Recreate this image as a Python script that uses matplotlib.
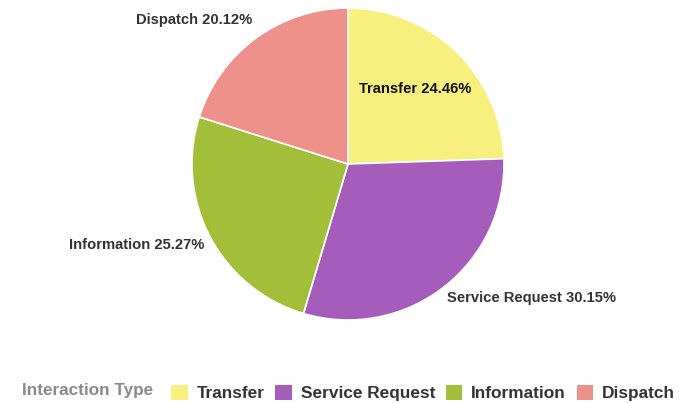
import matplotlib
matplotlib.use("Agg")
import matplotlib.pyplot as plt
from matplotlib.patches import Patch

categories = ["Transfer", "Service Request", "Information", "Dispatch"]
values = [24.46, 30.15, 25.27, 20.12]
colors = ["#F7F07E", "#A55CBB", "#A3BF3A", "#EE918A"]
legend_title = "Interaction Type"

plt.rcParams['font.family'] = ['Liberation Sans', 'DejaVu Sans']

W, H = 693, 403
fig = plt.figure(figsize=(W / 100, H / 100), dpi=100)
ax = fig.add_axes([0, 0, 1, 1])

cx, cy, r = 348, H - 164, 156
ax.pie(values, colors=colors, startangle=90, counterclock=False,
       center=(cx, cy), radius=r, frame=True,
       wedgeprops=dict(edgecolor='white', linewidth=1.2))
ax.set_xlim(0, W)
ax.set_ylim(0, H)
ax.set_aspect('equal')
ax.axis('off')

# label placement (pixel coords, y from top) and alignment
label_pos = [(415, 89, 'center'), (447, 298, 'left'), (204, 245, 'right'), (252, 20, 'right')]
for cat, v, (x, y, ha) in zip(categories, values, label_pos):
    ax.text(x, H - y, f"{cat} {v:.2f}%", ha=ha, va='center', fontsize=10.6,
            fontweight='bold', color='#111111' if cat == 'Transfer' else '#333333')

fig.text(22 / W, 1 - 391 / H, legend_title, ha='left', va='center', fontsize=12.3,
         fontweight='bold', color='#8a8a8a')
handles = [Patch(facecolor=c, edgecolor='none') for c in colors]
leg = fig.legend(handles, categories, loc='center left', bbox_to_anchor=(171 / W, 1 - 393 / H),
                 ncol=4, frameon=False, fontsize=12.4, handlelength=0.96, handleheight=0.96,
                 handletextpad=0.52, columnspacing=0.62, borderaxespad=0, borderpad=0)
for t in leg.get_texts():
    t.set_color('#333333')
    t.set_fontweight('bold')

fig.savefig("out.png", dpi=100)
